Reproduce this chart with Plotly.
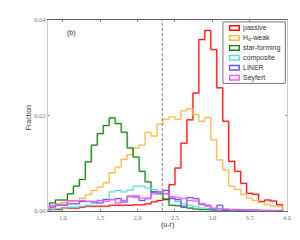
import numpy as np
import plotly.graph_objects as go

# ---- data ----
bin_start = 0.82
bin_width = 0.08
n_bins = 39

passive = [0.0003, 0.0003, 0.0006, 0.0006, 0.0006, 0.0008, 0.0010, 0.0010, 0.0010, 0.0010,
           0.0012, 0.0012, 0.0012, 0.0012, 0.0013, 0.0013, 0.0015, 0.0019, 0.0022, 0.0024,
           0.0055, 0.0090, 0.0142, 0.0191, 0.0247, 0.0359, 0.0378, 0.0338, 0.0258, 0.0188,
           0.0104, 0.0083, 0.0058, 0.0037, 0.0035, 0.0020, 0.0023, 0.0021, 0.0013]
ha_weak = [0.0010, 0.0015, 0.0018, 0.0020, 0.0022, 0.0027, 0.0034, 0.0043, 0.0050, 0.0059,
           0.0080, 0.0092, 0.0108, 0.0118, 0.0132, 0.0138, 0.0165, 0.0157, 0.0182, 0.0192,
           0.0197, 0.0192, 0.0210, 0.0214, 0.0202, 0.0188, 0.0196, 0.0149, 0.0107, 0.0086,
           0.0052, 0.0045, 0.0034, 0.0027, 0.0022, 0.0018, 0.0013, 0.0010, 0.0010]
star_forming = [0.0017, 0.0023, 0.0023, 0.0036, 0.0052, 0.0066, 0.0103, 0.0138, 0.0162, 0.0179,
                0.0195, 0.0183, 0.0165, 0.0132, 0.0113, 0.0083, 0.0061, 0.0040, 0.0036, 0.0025,
                0.0012, 0.0011, 0.0008, 0.0006, 0.0004, 0.0003, 0.0003, 0.0002, 0.0002, 0.0001,
                0.0001, 0.0001, 0.0001, 0.0001, 0.0001, 0.0001, 0.0000, 0.0000, 0.0000]
composite = [0.0004, 0.0005, 0.0006, 0.0008, 0.0008, 0.0010, 0.0012, 0.0016, 0.0022, 0.0024,
             0.0040, 0.0043, 0.0040, 0.0044, 0.0052, 0.0052, 0.0048, 0.0045, 0.0038, 0.0036,
             0.0028, 0.0020, 0.0015, 0.0012, 0.0009, 0.0006, 0.0005, 0.0004, 0.0003, 0.0003,
             0.0002, 0.0002, 0.0002, 0.0001, 0.0001, 0.0001, 0.0001, 0.0000, 0.0000]
liner = [0.0008, 0.0012, 0.0012, 0.0015, 0.0015, 0.0020, 0.0020, 0.0019, 0.0017, 0.0024,
         0.0024, 0.0026, 0.0019, 0.0031, 0.0029, 0.0022, 0.0026, 0.0040, 0.0040, 0.0043,
         0.0026, 0.0024, 0.0010, 0.0028, 0.0026, 0.0014, 0.0012, 0.0004, 0.0012, 0.0003,
         0.0003, 0.0002, 0.0002, 0.0002, 0.0002, 0.0001, 0.0001, 0.0001, 0.0001]
seyfert = [0.0012, 0.0014, 0.0014, 0.0022, 0.0021, 0.0022, 0.0020, 0.0020, 0.0022, 0.0020,
           0.0024, 0.0017, 0.0022, 0.0030, 0.0032, 0.0027, 0.0027, 0.0036, 0.0040, 0.0036,
           0.0030, 0.0028, 0.0026, 0.0022, 0.0021, 0.0016, 0.0010, 0.0006, 0.0005, 0.0004,
           0.0003, 0.0003, 0.0002, 0.0002, 0.0001, 0.0001, 0.0001, 0.0001, 0.0000]

series_names = ["passive", "H<sub>α</sub>-weak", "star-forming", "composite", "LINER", "Seyfert"]
series_values = [passive, ha_weak, star_forming, composite, liner, seyfert]
series_colors = ["#FF0000", "#FFB53F", "#0A7F0A", "#55DDD5", "#5A5AFF", "#FF55FF"]

divider_x = 2.33
x_ticks = [1.0, 1.5, 2.0, 2.5, 3.0, 3.5, 4.0]
y_ticks = [0.0, 0.02, 0.04]

edges = bin_start + bin_width * np.arange(n_bins + 1)

fig = go.Figure()

for name, vals, col in zip(series_names, series_values, series_colors):
    xs = [edges[0]] + list(edges[:-1]) + [edges[-1]]
    ys = [0] + list(vals) + [0]
    fig.add_trace(go.Scatter(x=xs, y=ys, mode="lines", line=dict(shape="hv", color=col, width=2.2),
                             opacity=0.25, showlegend=False, hoverinfo="skip"))
    fig.add_trace(go.Scatter(x=xs, y=ys, mode="lines", line=dict(shape="hv", color=col, width=1.0),
                             showlegend=False, name=name))

fig.add_shape(type="line", x0=divider_x, x1=divider_x, y0=0, y1=1, xref="x", yref="paper",
              line=dict(color="#777777", width=0.9, dash="3px,2px"))

# manual legend (outlined patches)
fig.add_shape(type="rect", xref="paper", yref="paper", x0=0.732, x1=0.993, y0=0.668, y1=0.99,
              line=dict(color="#777777", width=1), fillcolor="white")
row_top = 0.958
row_step = 0.052
for i, (name, col) in enumerate(zip(series_names, series_colors)):
    yc = row_top - i * row_step
    fig.add_shape(type="rect", xref="paper", yref="paper", x0=0.760, x1=0.800,
                  y0=yc - 0.012, y1=yc + 0.012, line=dict(color=col, width=1.4),
                  fillcolor="rgba(0,0,0,0)")
    fig.add_annotation(xref="paper", yref="paper", x=0.808, y=yc, text=name, showarrow=False,
                       xanchor="left", yanchor="middle",
                       font=dict(family="Liberation Sans", size=7, color="#333333"))

fig.add_annotation(xref="paper", yref="paper", x=0.072, y=0.93, text="(b)", showarrow=False,
                   xanchor="left", yanchor="middle",
                   font=dict(family="Liberation Sans", size=7, color="#333333"))

# axis titles as annotations for exact placement
fig.add_annotation(xref="paper", yref="paper", x=0.498, y=-0.075, text="(u-r)", showarrow=False,
                   xanchor="center", yanchor="middle",
                   font=dict(family="Liberation Sans", size=7, color="#333333"))
fig.add_annotation(xref="paper", yref="paper", x=-0.084, y=0.49, text="Fraction", showarrow=False,
                   xanchor="center", yanchor="middle", textangle=-90,
                   font=dict(family="Liberation Sans", size=7, color="#333333"))

fig.update_xaxes(range=[0.8, 4.0], tickvals=x_ticks, ticktext=[f"{v:.1f}" for v in x_ticks],
                 ticks="inside", ticklen=2, tickcolor="#888888",
                 showline=True, linecolor="#666666", linewidth=1, mirror="ticks",
                 showgrid=False, zeroline=False, automargin=False,
                 tickfont=dict(family="Liberation Serif", size=6.5, color="#777777"))
fig.update_yaxes(range=[0, 0.04], tickvals=y_ticks, ticktext=[f"{v:.2f}" for v in y_ticks],
                 ticks="inside", ticklen=2, tickcolor="#888888",
                 showline=True, linecolor="#cccccc", linewidth=1, mirror="ticks",
                 showgrid=False, zeroline=False, automargin=False,
                 tickfont=dict(family="Liberation Serif", size=6.5, color="#777777"))

# the page body adds an 8px offset, so the figure is sized to compensate
fig.update_layout(width=292, height=232, margin=dict(l=40, r=13, t=12, b=29),
                  plot_bgcolor="white", paper_bgcolor="white", showlegend=False)

fig.write_html("out.html")
